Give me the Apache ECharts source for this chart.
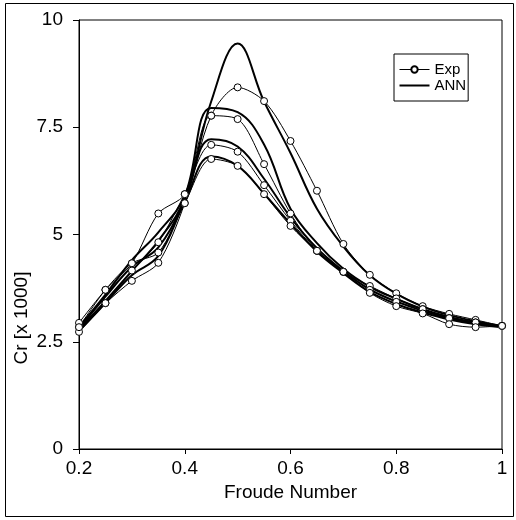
<!DOCTYPE html>
<html>
<head>
<meta charset="utf-8">
<script src="https://cdn.jsdelivr.net/npm/echarts@6/dist/echarts.min.js"></script>
<style>
html,body{margin:0;padding:0;background:#fff;}
#chart{width:516px;height:520px;}
</style>
</head>
<body>
<div id="chart"></div>
<script>
var froude = [0.2,0.25,0.3,0.35,0.4,0.45,0.5,0.55,0.6,0.65,0.7,0.75,0.8,0.85,0.9,0.95,1.0];
var exp1 = [2.84,3.40,3.92,4.34,5.73,7.77,8.43,8.11,7.18,6.02,4.78,4.06,3.63,3.33,3.15,3.01,2.87];
var exp2 = [2.94,3.71,4.33,5.49,5.94,7.77,7.69,6.64,5.49,4.62,4.13,3.80,3.51,3.26,3.05,2.95,2.87];
var exp3 = [2.73,3.40,4.16,4.82,5.94,7.09,6.93,6.15,5.32,4.62,4.13,3.71,3.43,3.26,3.05,2.95,2.87];
var exp4 = [2.84,3.71,4.33,4.58,5.73,6.76,6.60,5.94,5.20,4.62,4.13,3.64,3.33,3.16,2.91,2.84,2.87];
var ann1 = [2.78,3.45,4.15,4.85,5.85,8.10,9.45,8.10,6.90,5.60,4.72,4.05,3.62,3.32,3.12,2.98,2.87];
var ann2 = [2.85,3.60,4.40,5.05,5.90,7.95,7.85,7.10,5.60,4.80,4.20,3.78,3.50,3.26,3.08,2.95,2.86];
var ann3 = [2.80,3.55,4.25,4.70,5.80,7.22,7.05,6.30,5.40,4.68,4.15,3.72,3.44,3.22,3.05,2.93,2.85];
var ann4 = [2.75,3.40,4.05,4.50,5.75,6.82,6.60,5.95,5.25,4.60,4.10,3.66,3.38,3.18,3.02,2.91,2.84];
var xTicks = [0.2,0.4,0.6,0.8,1];
var yTicks = [0,2.5,5,7.5,10];
var legendNames = ['Exp','ANN'];
var xTitle = 'Froude Number';
var yTitle = 'Cr [x 1000]';

function pairs(ys){ return froude.map(function(x,i){ return [x, ys[i]]; }); }
function tickFmt(list){
  return function(v){ var t = list.filter(function(k){return Math.abs(k-v)<1e-9;}); return t.length ? String(t[0]) : ''; };
}

var FONT = 'Liberation Sans';
var chart = echarts.init(document.getElementById('chart'));

function expSeries(ys){
  return {name:legendNames[0], type:'line', data:pairs(ys), smooth:0.3,
    symbol:'circle', symbolSize:7, showSymbol:true,
    lineStyle:{color:'#000', width:1},
    itemStyle:{color:'#fff', borderColor:'#000', borderWidth:1},
    z:3, animation:false};
}
function annSeries(ys){
  return {name:legendNames[1], type:'line', data:pairs(ys), smooth:0.4,
    symbol:'none', lineStyle:{color:'#000', width:2},
    itemStyle:{color:'#000'}, z:2, animation:false};
}

chart.setOption({
  animation:false,
  backgroundColor:'#fff',
  graphic:[
    {type:'rect', shape:{x:5.5, y:3.5, width:508, height:513},
      style:{fill:'none', stroke:'#000', lineWidth:1}, silent:true},
    {type:'text', x:22, y:318, rotation:Math.PI/2,
      style:{text:yTitle, fontFamily:FONT, fontSize:19, fill:'#000', align:'center', verticalAlign:'middle'}, silent:true}
  ],
  grid:{left:79, top:20, right:14, bottom:71, show:true, borderColor:'#000', borderWidth:1, backgroundColor:'transparent'},
  legend:{
    data:[
      {name:legendNames[0], lineStyle:{width:1, color:'#000'}},
      {name:legendNames[1], icon:'path://M0,0L30,0L30,2L0,2Z', itemStyle:{color:'#000'}}
    ],
    orient:'vertical', left:394, top:54,
    itemWidth:30, itemHeight:8, itemGap:1,
    padding:[8,2,8,5],
    borderColor:'#000', borderWidth:1, backgroundColor:'#fff',
    textStyle:{fontFamily:FONT, fontSize:15, lineHeight:15, color:'#000'}
  },
  xAxis:{
    type:'value', min:0.2, max:1, interval:0.2,
    name:xTitle, nameLocation:'middle', nameGap:31,
    nameTextStyle:{fontFamily:FONT, fontSize:19, color:'#000'},
    axisLine:{show:true, lineStyle:{color:'#000', width:1}},
    axisTick:{show:true, inside:false, length:5, lineStyle:{color:'#000'}},
    axisLabel:{fontFamily:FONT, fontSize:19, color:'#000', margin:10, formatter:tickFmt(xTicks)},
    splitLine:{show:false}
  },
  yAxis:{
    type:'value', min:0, max:10, interval:2.5,
    axisLine:{show:true, lineStyle:{color:'#000', width:1}},
    axisTick:{show:true, inside:false, length:6, lineStyle:{color:'#000'}},
    axisLabel:{fontFamily:FONT, fontSize:19, color:'#000', margin:16, formatter:tickFmt(yTicks)},
    splitLine:{show:false}
  },
  series:[annSeries(ann1), annSeries(ann2), annSeries(ann3), annSeries(ann4),
          expSeries(exp1), expSeries(exp2), expSeries(exp3), expSeries(exp4)]
});
</script>
</body>
</html>
